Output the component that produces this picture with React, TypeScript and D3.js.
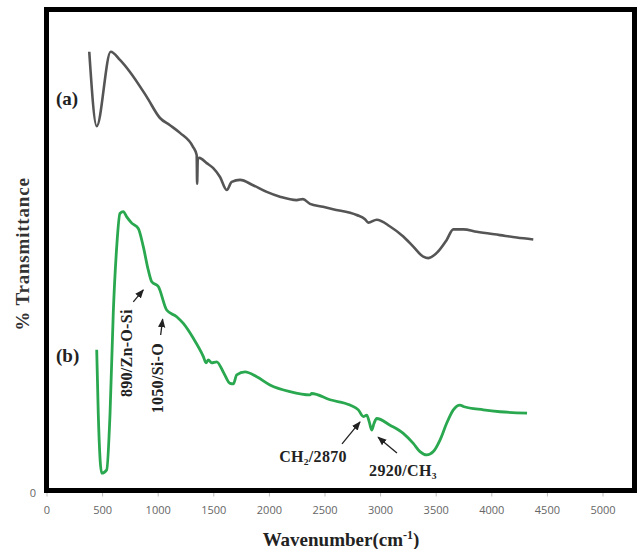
import React from 'react'
import * as d3 from 'd3'

// wavenumber (cm-1) / relative transmittance
const seriesA: [number, number][] = [
  [380, 91.3], [447, 75.8], [573, 91.3], [656, 89.6], [746, 87.1], [897, 81.9],
  [1016, 77.5], [1106, 76.0], [1196, 74.4], [1313, 71.5], [1346, 69.8], [1350, 63.8],
  [1356, 69.0], [1370, 69.2], [1436, 68.1], [1493, 67.1], [1556, 65.2], [1616, 62.5],
  [1661, 64.2], [1736, 64.6], [1853, 63.5], [1976, 62.1], [2095, 61.1], [2245, 60.4],
  [2302, 60.6], [2365, 59.6], [2482, 59.0], [2572, 58.5], [2785, 57.3], [2860, 56.4],
  [2890, 55.7], [2965, 56.3], [3085, 54.9], [3204, 52.8], [3294, 50.7], [3384, 48.6],
  [3429, 48.3], [3505, 49.4], [3594, 52.1], [3654, 54.3], [3744, 54.3], [3864, 53.8],
  [4074, 53.1], [4224, 52.6], [4373, 52.2]
]

const seriesB: [number, number][] = [
  [447, 29.2], [461, 16.0], [492, 3.5], [537, 4.2], [567, 16.0], [596, 36.9],
  [627, 50.7], [656, 57.6], [686, 58.0], [717, 56.9], [762, 55.6], [821, 54.5],
  [866, 50.7], [911, 45.8], [942, 43.4], [1001, 42.4], [1076, 37.5], [1166, 36.1],
  [1226, 34.7], [1316, 31.6], [1406, 27.8], [1430, 26.5], [1451, 27.1], [1481, 26.5],
  [1526, 26.7], [1585, 24.6], [1646, 22.2], [1676, 22.1], [1706, 24.0], [1781, 24.6],
  [1886, 23.6], [2005, 21.9], [2185, 20.5], [2365, 19.8], [2380, 20.1], [2545, 18.8],
  [2725, 17.7], [2800, 16.7], [2845, 15.3], [2875, 15.6], [2898, 14.2], [2920, 12.5],
  [2941, 13.9], [2965, 14.9], [3085, 13.5], [3204, 11.8], [3294, 9.7], [3354, 8.0],
  [3415, 7.3], [3474, 8.0], [3534, 10.4], [3594, 13.9], [3654, 16.7], [3714, 17.7],
  [3744, 17.4], [3924, 16.7], [4074, 16.3], [4317, 16.0]
]

const xTicks = [0, 500, 1000, 1500, 2000, 2500, 3000, 3500, 4000, 4500, 5000]

// peak labels: text centre and arrow tail/tip, in data units
const peakLabels = [
  { text: '890/Zn-O-Si', tx: 719, ty: 28.5, rotate: true, from: [776, 39.2], to: [866, 41.7] },
  { text: '1050/Si-O', tx: 998, ty: 23.3, rotate: true, from: [1022, 32.3], to: [1040, 35.6] },
  { text: 'CH\u2082/2870', tx: 2392, ty: 6.9, rotate: false, from: [2653, 9.6], to: [2815, 14.2] },
  { text: '2920/CH\u2083', tx: 3201, ty: 4.0, rotate: false, from: [3147, 7.7], to: [2977, 11.0] }
]

export default function App() {
  const W = 641, H = 549
  const frame = { left: 46.5, top: 9.5, right: 634.5, bottom: 490.5 }

  const x = d3.scaleLinear().domain([0, 5000]).range([47, 603])
  const y = d3.scaleLinear().domain([0, 100]).range([490, 10])

  const line = d3.line<[number, number]>()
    .x(d => x(d[0]))
    .y(d => y(d[1]))
    .curve(d3.curveMonotoneX)

  const serif = '"Liberation Serif", "Times New Roman", serif'
  const sans = '"Open Sans", "Liberation Sans", sans-serif'

  return (
    <div style={{ position: 'absolute', left: 0, top: 0 }}>
      <svg width={W} height={H} style={{ display: 'block', background: '#fff' }}>
        <defs>
          <marker id="arr" viewBox="0 0 10 10" refX="9" refY="5" markerWidth="7" markerHeight="7" orient="auto-start-reverse">
            <path d="M0,1 L10,5 L0,9 z" fill="#222" />
          </marker>
        </defs>

        {/* series */}
        <path d={line(seriesA) || ''} fill="none" stroke="#555" strokeWidth={2.6} strokeLinejoin="round" />
        <path d={line(seriesB) || ''} fill="none" stroke="#2aa84f" strokeWidth={2.8} strokeLinejoin="round" />

        {/* frame */}
        <rect x={frame.left} y={frame.top} width={frame.right - frame.left} height={frame.bottom - frame.top}
          fill="none" stroke="#000" strokeWidth={5} />

        {/* x ticks */}
        {xTicks.map(t => (
          <g key={t}>
            <line x1={x(t)} x2={x(t)} y1={frame.bottom + 2.5} y2={frame.bottom + 6} stroke="#bbb" strokeWidth={1} />
            <text x={x(t)} y={514} textAnchor="middle" fontFamily={sans} fontSize={11} fill="#666">{t}</text>
          </g>
        ))}
        <text x={33} y={497} textAnchor="middle" fontFamily={sans} fontSize={11} fill="#666">0</text>

        {/* axis titles */}
        <text x={341} y={546} textAnchor="middle" fontFamily={serif} fontWeight="bold" fontSize={19} fill="#222">
          Wavenumber(cm<tspan dy={-7} fontSize={12}>-1</tspan><tspan dy={7}>)</tspan>
        </text>
        <text transform="translate(29,254) rotate(-90)" textAnchor="middle" fontFamily={serif} fontWeight="bold"
          fontSize={19} letterSpacing={0.8} fill="#333">
          % Transmittance
        </text>

        {/* series labels */}
        <text x={56} y={105} fontFamily={serif} fontWeight="bold" fontSize={19} fill="#222">(a)</text>
        <text x={56} y={362} fontFamily={serif} fontWeight="bold" fontSize={19} fill="#222">(b)</text>

        {/* peak annotations */}
        {peakLabels.map(p => (
          <g key={p.text}>
            <line x1={x(p.from[0])} y1={y(p.from[1])} x2={x(p.to[0])} y2={y(p.to[1])}
              stroke="#222" strokeWidth={1.3} markerEnd="url(#arr)" />
            <text
              transform={`translate(${x(p.tx)},${y(p.ty)})${p.rotate ? ' rotate(-90)' : ''}`}
              textAnchor="middle" dominantBaseline="central"
              fontFamily={serif} fontWeight="bold" fontSize={16} letterSpacing={0.3} fill="#222">{p.text}</text>
          </g>
        ))}
      </svg>
    </div>
  )
}
